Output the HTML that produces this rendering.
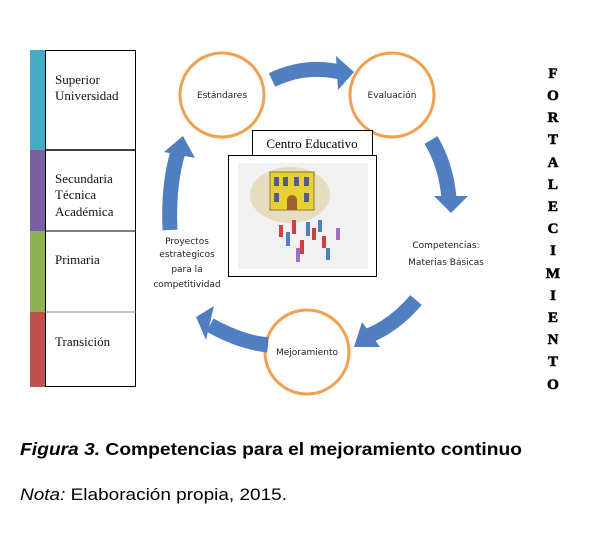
<!DOCTYPE html>
<html><head><meta charset="utf-8"><style>
html,body{margin:0;padding:0;background:#fff;}
svg{display:block;}
</style></head><body>
<svg width="604" height="536" viewBox="0 0 604 536" xmlns="http://www.w3.org/2000/svg">
<rect width="604" height="536" fill="#fff"/>
<rect x="30" y="50" width="16" height="100" fill="#46a9c6"/>
<rect x="30" y="150" width="16" height="81" fill="#7b5fa3"/>
<rect x="30" y="231" width="16" height="81" fill="#8db34f"/>
<rect x="30" y="312" width="16" height="75" fill="#c0504d"/>
<rect x="45.5" y="50.5" width="90" height="336" fill="#fff" stroke="#000" stroke-width="1"/>
<line x1="45" y1="150" x2="136" y2="150" stroke="#000" stroke-width="1.5"/>
<line x1="45" y1="231" x2="136" y2="231" stroke="#000"/>
<line x1="45" y1="312" x2="136" y2="312" stroke="#888"/>
<g font-family="Liberation Serif, serif" font-size="13" fill="#111">
<text x="55" y="84">Superior</text>
<text x="55" y="100">Universidad</text>
<text x="55" y="183">Secundaria</text>
<text x="55" y="199">Técnica</text>
<text x="55" y="216">Académica</text>
<text x="55" y="264">Primaria</text>
<text x="55" y="346">Transición</text>
</g>
<g fill="#fff" stroke="#f0a050" stroke-width="3">
<circle cx="222" cy="95" r="42"/>
<circle cx="392" cy="95" r="42"/>
<circle cx="307" cy="352" r="42"/>
</g>
<g font-family="DejaVu Sans, sans-serif" font-size="9" fill="#222" text-anchor="middle">
<text x="222" y="98">Estándares</text>
<text x="392" y="98">Evaluación</text>
<text x="307" y="355">Mejoramiento</text>
<text x="446" y="248">Competencias:</text>
<text x="446" y="265">Materias Básicas</text>
<text x="187" y="244">Proyectos</text>
<text x="187" y="257">estrategicos</text>
<text x="187" y="272">para la</text>
<text x="187" y="287">competitividad</text>
</g>
<g fill="none" stroke="#4f7fc0" stroke-width="15">
<path d="M272 80 Q305 64 340 72"/>
<path d="M431 140 Q446 165 449 198"/>
<path d="M416 300 Q395 325 368 336"/>
<path d="M268 345 Q240 342 210 325"/>
<path d="M170 230 Q168 185 178 152"/>
</g>
<g fill="#4f7fc0">
<polygon points="354,72 336,56 338,90"/>
<polygon points="451,213 434,196 468,196"/>
<polygon points="354,347 362,322 380,347"/>
<polygon points="196,317 214,306 206,340"/>
<polygon points="183,136 164,152 195,158"/>
</g>
<rect x="252.5" y="130.5" width="120" height="25" fill="#fff" stroke="#000"/>
<text x="312" y="148" text-anchor="middle" font-family="Liberation Serif, serif" font-size="13">Centro Educativo</text>
<rect x="228.5" y="155.5" width="148" height="121" fill="#fff" stroke="#000"/>
<rect x="238" y="163" width="130" height="106" fill="#f1f1f1"/>
<ellipse cx="290" cy="195" rx="40" ry="28" fill="#e8dcc0"/>
<rect x="270" y="172" width="44" height="38" fill="#e8d030" stroke="#8a7a20"/>
<g fill="#506080"><rect x="274" y="177" width="5" height="9"/><rect x="283" y="177" width="5" height="9"/><rect x="294" y="177" width="5" height="9"/><rect x="304" y="177" width="5" height="9"/><rect x="274" y="193" width="5" height="9"/><rect x="304" y="193" width="5" height="9"/></g>
<path d="M287 210 v-10 a5 5 0 0 1 10 0 v10z" fill="#a06030"/>
<g fill="#d04040"><rect x="279" y="225" width="4" height="12"/><rect x="292" y="220" width="4" height="14"/><rect x="312" y="228" width="4" height="12"/><rect x="300" y="240" width="4" height="14"/><rect x="322" y="236" width="4" height="12"/></g>
<g fill="#5080c0"><rect x="286" y="232" width="4" height="14"/><rect x="306" y="222" width="4" height="14"/><rect x="318" y="220" width="4" height="12"/><rect x="326" y="248" width="4" height="12"/></g>
<g fill="#a070c0"><rect x="296" y="248" width="4" height="14"/><rect x="336" y="228" width="4" height="12"/></g>
<g font-family="Liberation Serif, serif" font-weight="bold" font-size="15" fill="#000" text-anchor="middle" stroke="#000" stroke-width="0.6">
<text x="553" y="78">F</text><text x="553" y="100">O</text><text x="553" y="122">R</text><text x="553" y="144">T</text><text x="553" y="167">A</text><text x="553" y="189">L</text><text x="553" y="211">E</text><text x="553" y="233">C</text><text x="553" y="255">I</text><text x="553" y="278">M</text><text x="553" y="300">I</text><text x="553" y="322">E</text><text x="553" y="344">N</text><text x="553" y="366">T</text><text x="553" y="389">O</text>
</g>
<text x="20" y="455" font-family="Liberation Sans, sans-serif" font-weight="bold" font-size="17.5" fill="#000" textLength="502" lengthAdjust="spacingAndGlyphs"><tspan font-style="italic">Figura 3.</tspan> Competencias para el mejoramiento continuo</text>
<text x="20" y="500" font-family="Liberation Sans, sans-serif" font-size="17" fill="#000" textLength="267" lengthAdjust="spacingAndGlyphs"><tspan font-style="italic">Nota:</tspan> Elaboración propia, 2015.</text>
</svg>
</body></html>
